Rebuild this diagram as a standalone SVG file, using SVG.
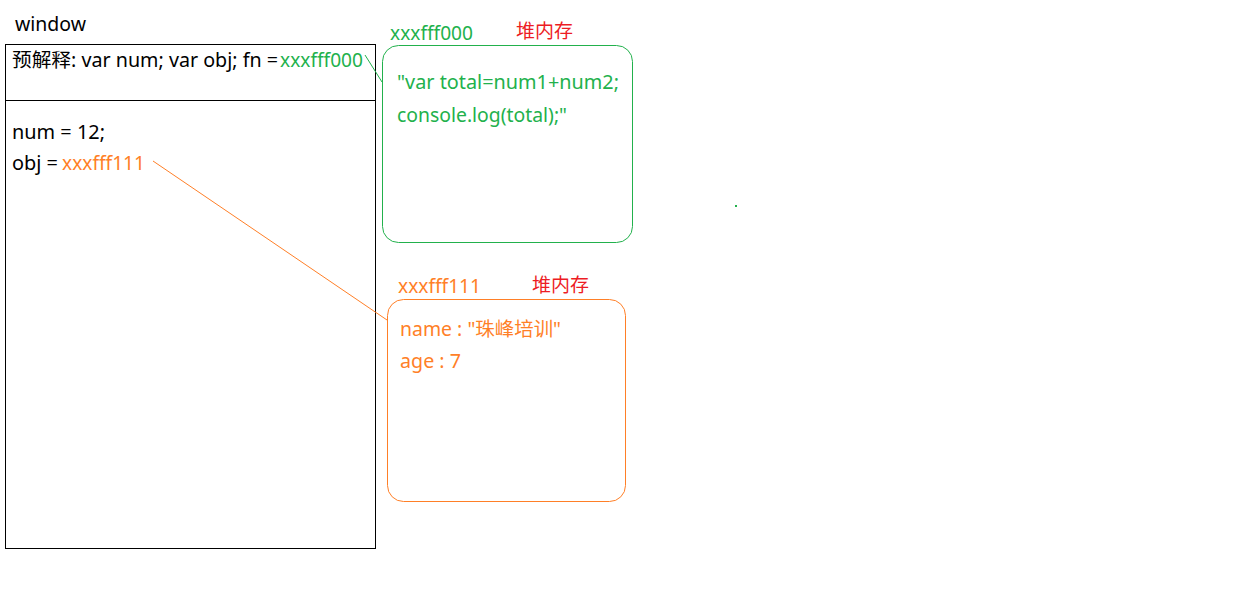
<svg xmlns="http://www.w3.org/2000/svg" width="1260" height="590" viewBox="0 0 1260 590">
<style>
text{font-family:"Noto Sans","Noto Sans CJK SC",sans-serif;font-size:19px}
.k{fill:#000}
.g{fill:#22b14c}
.o{fill:#ff7f27}
.r{fill:#ed1c24}
.box{fill:none;stroke-width:1}
</style>
<rect width="1260" height="590" fill="#fff"/>
<g id="window">
<text class="k" x="15" y="31" textLength="71" lengthAdjust="spacingAndGlyphs">window</text>
<rect x="5.5" y="44.5" width="370" height="504" fill="none" stroke="#000" stroke-width="1"/>
<line x1="5.5" y1="100.5" x2="375.5" y2="100.5" stroke="#000"/>
<text class="k" x="12" y="67" textLength="266" lengthAdjust="spacingAndGlyphs">预解释: var num; var obj; fn =</text>
<text class="g" x="280" y="67" textLength="83" lengthAdjust="spacingAndGlyphs">xxxfff000</text>
<text class="k" x="12" y="139" textLength="93" lengthAdjust="spacingAndGlyphs">num = 12;</text>
<text class="k" x="12" y="170" textLength="46" lengthAdjust="spacingAndGlyphs">obj =</text>
<text class="o" x="62" y="170" textLength="83" lengthAdjust="spacingAndGlyphs">xxxfff111</text>
</g>
<g id="heap1">
<text class="g" x="390" y="40" textLength="83" lengthAdjust="spacingAndGlyphs">xxxfff000</text>
<text class="r" x="516" y="38" textLength="57" lengthAdjust="spacingAndGlyphs">堆内存</text>
<rect class="box" x="382.5" y="45.5" width="250" height="197" rx="16" stroke="#22b14c"/>
<text class="g" x="397" y="89" textLength="222" lengthAdjust="spacingAndGlyphs">"var total=num1+num2;</text>
<text class="g" x="397" y="122" textLength="170" lengthAdjust="spacingAndGlyphs">console.log(total);"</text>
</g>
<g id="heap2">
<text class="o" x="398" y="293" textLength="83" lengthAdjust="spacingAndGlyphs">xxxfff111</text>
<text class="r" x="532" y="292" textLength="57" lengthAdjust="spacingAndGlyphs">堆内存</text>
<rect class="box" x="387.5" y="299.5" width="238" height="202" rx="16" stroke="#ff7f27"/>
<text class="o" x="400" y="336" textLength="161" lengthAdjust="spacingAndGlyphs">name : "珠峰培训"</text>
<text class="o" x="400" y="368" textLength="61" lengthAdjust="spacingAndGlyphs">age : 7</text>
</g>
<g id="connectors">
<line x1="365" y1="55" x2="382" y2="82" stroke="#22b14c" stroke-width="1"/>
<line x1="153" y1="161" x2="387" y2="320" stroke="#ff7f27" stroke-width="1"/>
</g>
<rect x="735" y="205" width="2" height="2" fill="#22b14c"/>
</svg>
